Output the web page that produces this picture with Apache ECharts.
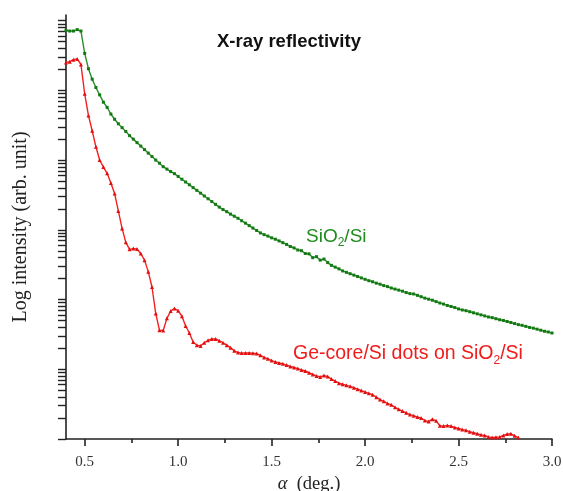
<!DOCTYPE html>
<html lang="en">
<head>
  <meta charset="utf-8">
  <script src="https://cdn.jsdelivr.net/npm/echarts@6/dist/echarts.min.js"></script>
  <style>
    html, body { margin: 0; padding: 0; background: #fff; }
    #chart { width: 563px; height: 491px; }
  </style>
</head>
<body>
<div id="chart"></div>
<script>
// [angle (deg), log10 intensity]
const sio2 = [
  [0.40,5.86],[0.42,5.85],[0.44,5.85],[0.46,5.87],[0.48,5.85],[0.50,5.53],[0.52,5.31],[0.54,5.16],[0.56,5.04],[0.58,4.935],
  [0.60,4.83],[0.62,4.755],[0.64,4.66],[0.66,4.585],[0.68,4.52],[0.70,4.465],[0.72,4.41],[0.74,4.35],[0.76,4.30],[0.78,4.25],
  [0.80,4.20],[0.82,4.15],[0.84,4.10],[0.86,4.05],[0.88,4.00],[0.90,3.955],[0.92,3.905],[0.94,3.87],[0.96,3.835],[0.98,3.805],
  [1.00,3.765],[1.02,3.725],[1.04,3.685],[1.06,3.645],[1.08,3.605],[1.10,3.565],[1.12,3.525],[1.14,3.485],[1.16,3.445],[1.18,3.405],
  [1.20,3.365],[1.22,3.325],[1.24,3.29],[1.26,3.26],[1.28,3.225],[1.30,3.195],[1.32,3.165],[1.34,3.13],[1.36,3.095],[1.38,3.06],
  [1.40,3.025],[1.42,2.99],[1.44,2.955],[1.46,2.93],[1.48,2.91],[1.50,2.885],[1.52,2.865],[1.54,2.84],[1.56,2.815],[1.58,2.79],
  [1.60,2.76],[1.62,2.74],[1.64,2.71],[1.66,2.70],[1.68,2.66],[1.70,2.655],[1.72,2.60],[1.74,2.615],[1.76,2.565],[1.78,2.58],
  [1.80,2.53],[1.82,2.49],[1.84,2.465],[1.86,2.44],[1.88,2.41],[1.90,2.39],[1.92,2.37],[1.94,2.35],[1.96,2.33],[1.98,2.31],
  [2.00,2.29],[2.02,2.27],[2.04,2.255],[2.06,2.235],[2.08,2.22],[2.10,2.20],[2.12,2.185],[2.14,2.165],[2.16,2.15],[2.18,2.135],
  [2.20,2.12],[2.22,2.10],[2.24,2.085],[2.26,2.08],[2.28,2.06],[2.30,2.04],[2.32,2.02],[2.34,2.005],[2.36,1.99],[2.38,1.97],
  [2.40,1.95],[2.42,1.935],[2.44,1.915],[2.46,1.90],[2.48,1.885],[2.50,1.865],[2.52,1.85],[2.54,1.84],[2.56,1.825],[2.58,1.81],
  [2.60,1.795],[2.62,1.78],[2.64,1.765],[2.66,1.75],[2.68,1.74],[2.70,1.725],[2.72,1.71],[2.74,1.70],[2.76,1.685],[2.78,1.67],
  [2.80,1.655],[2.82,1.64],[2.84,1.63],[2.86,1.615],[2.88,1.60],[2.90,1.59],[2.92,1.575],[2.94,1.56],[2.96,1.545],[2.98,1.535],
  [3.00,1.52]
];

const geDots = [
  [0.40,5.40],[0.42,5.41],[0.44,5.44],[0.46,5.45],[0.48,5.37],[0.50,4.95],[0.52,4.64],[0.54,4.42],[0.56,4.19],[0.58,4.00],
  [0.60,3.90],[0.62,3.81],[0.64,3.67],[0.66,3.52],[0.68,3.27],[0.70,3.02],[0.72,2.82],[0.74,2.72],[0.76,2.73],[0.78,2.725],
  [0.80,2.66],[0.82,2.565],[0.84,2.40],[0.86,2.18],[0.88,1.80],[0.90,1.56],[0.92,1.555],[0.94,1.73],[0.96,1.835],[0.98,1.87],
  [1.00,1.84],[1.02,1.76],[1.04,1.62],[1.06,1.52],[1.08,1.39],[1.10,1.345],[1.12,1.335],[1.14,1.38],[1.16,1.415],[1.18,1.435],
  [1.20,1.435],[1.22,1.41],[1.24,1.38],[1.26,1.345],[1.28,1.31],[1.30,1.265],[1.32,1.24],[1.34,1.232],[1.36,1.235],[1.38,1.233],
  [1.40,1.23],[1.42,1.225],[1.44,1.20],[1.46,1.17],[1.48,1.15],[1.50,1.125],[1.52,1.105],[1.54,1.09],[1.56,1.078],[1.58,1.06],
  [1.60,1.04],[1.62,1.025],[1.64,1.01],[1.66,0.99],[1.68,0.975],[1.70,0.95],[1.72,0.925],[1.74,0.905],[1.76,0.89],[1.78,0.91],
  [1.80,0.895],[1.82,0.86],[1.84,0.83],[1.86,0.80],[1.88,0.785],[1.90,0.77],[1.92,0.755],[1.94,0.735],[1.96,0.715],[1.98,0.695],
  [2.00,0.675],[2.02,0.655],[2.04,0.635],[2.06,0.60],[2.08,0.565],[2.10,0.54],[2.12,0.51],[2.14,0.49],[2.16,0.455],[2.18,0.425],
  [2.20,0.40],[2.22,0.375],[2.24,0.35],[2.26,0.335],[2.28,0.315],[2.30,0.30],[2.32,0.265],[2.34,0.25],[2.36,0.285],[2.38,0.26],
  [2.40,0.19],[2.42,0.185],[2.44,0.195],[2.46,0.185],[2.48,0.165],[2.50,0.15],[2.52,0.135],[2.54,0.125],[2.56,0.105],[2.58,0.09],
  [2.60,0.075],[2.62,0.06],[2.64,0.05],[2.66,0.03],[2.68,0.02],[2.70,0.025],[2.72,0.03],[2.74,0.05],[2.76,0.07],[2.78,0.075],
  [2.80,0.045],[2.82,0.02]
];

const xMajorTicks = [0.5, 1.0, 1.5, 2.0, 2.5, 3.0];
const xMinorTicks = [0.75, 1.25, 1.75, 2.25, 2.75];
const decades = [0, 1, 2, 3, 4, 5];
const mantissas = [1, 2, 3, 4, 5, 6, 7, 8, 9];

// log-axis tick positions (no labels on the y axis)
const yTicks = [];
decades.forEach(d => mantissas.forEach(m => yTicks.push(d + Math.log10(m))));
yTicks.push(6);

// outerBoundsMode none: keep the plot box fixed even if names reach the edge
const gridBox = { left: 66, right: 11, top: 15, bottom: 52, containLabel: false, outerBoundsMode: 'none' };
const axisColor = '#222';
const serif = '"Liberation Serif", "DejaVu Serif", serif';
const sans = '"Liberation Sans", Arial, sans-serif';

const chart = echarts.init(document.getElementById('chart'));
chart.setOption({
  animation: false,
  grid: [Object.assign({}, gridBox), Object.assign({}, gridBox)],
  xAxis: [{
    type: 'value', gridIndex: 0, position: 'bottom', min: 0.4, max: 3.0,
    splitLine: { show: false },
    axisLine: { lineStyle: { color: axisColor, width: 1.6 } },
    axisTick: { customValues: xMajorTicks, length: 7, lineStyle: { color: axisColor, width: 1.6 } },
    axisLabel: {
      customValues: xMajorTicks, margin: 16, color: '#333', fontFamily: serif, fontSize: 15,
      formatter: v => v.toFixed(1)
    },
    name: '{i|α}{n|  (deg.)}', nameLocation: 'middle', nameGap: 35,
    nameTextStyle: {
      rich: {
        i: { fontFamily: serif, fontStyle: 'italic', fontSize: 18.5, color: '#222' },
        n: { fontFamily: serif, fontSize: 18.5, color: '#222' }
      }
    }
  }, {
    type: 'value', gridIndex: 1, position: 'bottom', min: 0.4, max: 3.0,
    splitLine: { show: false },
    axisLine: { show: false },
    axisTick: { customValues: xMinorTicks, length: 4, lineStyle: { color: axisColor, width: 1.6 } },
    axisLabel: { show: false }
  }],
  yAxis: [{
    type: 'value', gridIndex: 0, min: 0, max: 6.08,
    splitLine: { show: false },
    axisLine: { lineStyle: { color: axisColor, width: 1.6 } },
    axisTick: { customValues: yTicks, length: 8, lineStyle: { color: axisColor, width: 1.4 } },
    axisLabel: { show: false },
    name: 'Log intensity (arb. unit)', nameLocation: 'middle', nameGap: 35,
    nameTextStyle: { fontFamily: serif, fontSize: 20, color: '#222' }
  }, {
    type: 'value', gridIndex: 1, min: 0, max: 6.08, show: false
  }],
  graphic: [{
    type: 'text', left: 217, top: 32,
    style: { text: 'X-ray reflectivity', font: 'bold 18.5px ' + sans, fill: '#111' }
  }, {
    type: 'text', left: 306, top: 227,
    style: {
      text: '{a|SiO}{s|2}{a|/Si}',
      rich: {
        a: { fontFamily: sans, fontSize: 19, fill: '#1e8c1e' },
        s: { fontFamily: sans, fontSize: 12, fill: '#1e8c1e', padding: [13, 0, 0, 0] }
      }
    }
  }, {
    type: 'text', left: 293, top: 344,
    style: {
      text: '{a|Ge-core/Si dots on SiO}{s|2}{a|/Si}',
      rich: {
        a: { fontFamily: sans, fontSize: 19.5, fill: '#f01c1c' },
        s: { fontFamily: sans, fontSize: 12, fill: '#f01c1c', padding: [14, 0, 0, 0] }
      }
    }
  }],
  series: [{
    name: 'SiO2/Si', type: 'line', data: sio2,
    xAxisIndex: 0, yAxisIndex: 0,
    symbol: 'rect', symbolSize: 3,
    lineStyle: { color: '#2a8f2a', width: 1.4 },
    itemStyle: { color: '#137a13' }
  }, {
    name: 'Ge-core/Si dots on SiO2/Si', type: 'line', data: geDots,
    xAxisIndex: 0, yAxisIndex: 0,
    symbol: 'triangle', symbolSize: 4,
    lineStyle: { color: '#f42020', width: 1.4 },
    itemStyle: { color: '#e01010' }
  }]
});
</script>
</body>
</html>
